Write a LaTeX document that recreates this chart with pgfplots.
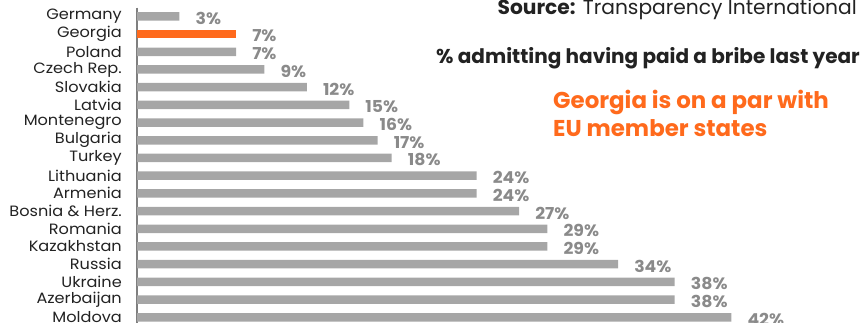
\documentclass[border=0pt]{standalone}
\usepackage{fontspec}
\setmainfont{Poppins}
\newfontfamily\labfont[FakeStretch=1.08]{Poppins}
\newfontfamily\valfont[FakeStretch=1.05]{Poppins}
\usepackage{pgfplots}
\pgfplotsset{compat=1.18}
\definecolor{bargray}{HTML}{A6A6A6}
\definecolor{labgray}{HTML}{8A8A8A}
\definecolor{hiorange}{HTML}{FF6A1C}
\definecolor{axgray}{HTML}{7F7F7F}
\definecolor{txt}{HTML}{222222}
\begin{document}
\begin{tikzpicture}
\useasboundingbox (0,0) rectangle (865bp,323bp);
\begin{axis}[
    at={(137bp,315.5bp)}, anchor=north west,
    scale only axis,
    width=707.5bp, height=318.6bp,
    xmin=0, xmax=50,
    ymin=-0.5, ymax=17.5,
    y dir=reverse,
    xbar, bar width=8.5bp, bar shift=0pt,
    axis x line=none,
    axis y line*=left,
    axis line style={axgray, line width=1.4bp},
    ytick={0,...,17},
    yticklabels={Germany,Georgia,Poland,Czech Rep.,Slovakia,Latvia,Montenegro,Bulgaria,Turkey,Lithuania,Armenia,Bosnia \& Herz.,Romania,Kazakhstan,Russia,Ukraine,Azerbaijan,Moldova},
    major tick length=0pt,
    yticklabel style={font=\labfont\fontsize{15}{15}\selectfont, text=txt, inner sep=0pt, xshift=-15bp},
    /pgf/number format/assume math mode=true,
    nodes near coords={\pgfmathprintnumber{\pgfplotspointmeta}\%},
    nodes near coords style={font=\valfont\fontsize{16.5}{16.5}\selectfont\bfseries, text=labgray, anchor=west, inner sep=0pt, xshift=16bp, yshift=-2bp},
    point meta=x,
    clip=false,
]
\addplot[draw=none, fill=bargray] coordinates {
    (3,0) (7,2) (9,3) (12,4) (15,5) (16,6) (17,7) (18,8) (24,9) (24,10)
    (27,11) (29,12) (29,13) (34,14) (38,15) (38,16) (42,17)
};
\addplot[draw=none, fill=hiorange] coordinates {(7,1)};
\end{axis}
\node[anchor=base east, inner sep=0pt, text=txt, font=\fontsize{20.3}{20.3}\selectfont] at (857bp,308.5bp) {\textbf{Source:} Transparency International};
\node[anchor=base east, inner sep=0pt, text=txt, font=\fontsize{20.1}{20.1}\selectfont\bfseries] at (860bp,259.7bp) {\% admitting having paid a bribe last year};
\node[anchor=base west, inner sep=0pt, text=hiorange, font=\fontsize{23}{23}\selectfont\bfseries] at (553bp,214.7bp) {Georgia is on a par with};
\node[anchor=base west, inner sep=0pt, text=hiorange, font=\fontsize{23}{23}\selectfont\bfseries] at (553bp,186.3bp) {EU member states};
\end{tikzpicture}
\end{document}
